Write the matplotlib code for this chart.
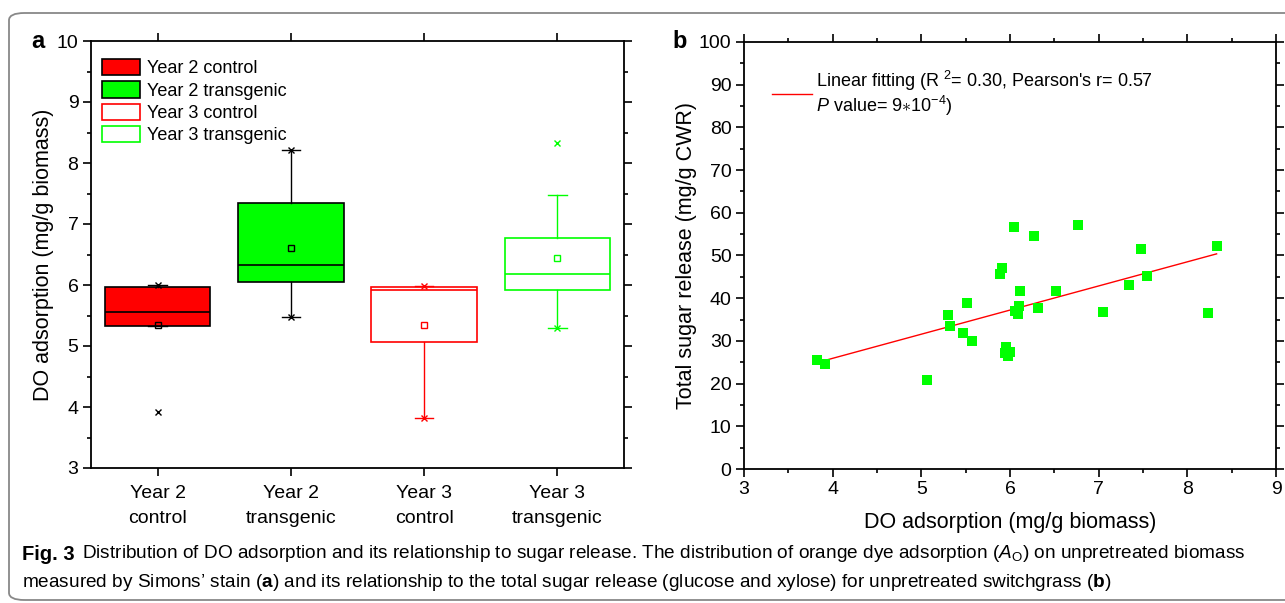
import numpy as np
import matplotlib
matplotlib.use('Agg')
import matplotlib.pyplot as plt
from matplotlib.patches import Patch, FancyBboxPatch
from matplotlib.text import Annotation
from matplotlib.ticker import MultipleLocator

plt.rcParams['font.family'] = ['Liberation Sans', 'DejaVu Sans']
plt.rcParams['mathtext.fontset'] = 'custom'
plt.rcParams['mathtext.rm'] = 'Liberation Sans'
plt.rcParams['mathtext.it'] = 'Liberation Sans:italic'
plt.rcParams['mathtext.bf'] = 'Liberation Sans:bold'

# ---- panel a: box statistics ----
groups = ['Year 2\ncontrol', 'Year 2\ntransgenic', 'Year 3\ncontrol', 'Year 3\ntransgenic']
legend_names = ['Year 2 control', 'Year 2 transgenic', 'Year 3 control', 'Year 3 transgenic']
q1 = [5.32, 6.05, 5.06, 5.91]
med = [5.56, 6.32, 5.92, 6.18]
q3 = [5.97, 7.34, 5.96, 6.77]
whis_lo = [5.32, 5.47, 3.82, 5.30]
whis_hi = [6.00, 8.22, 5.98, 7.48]
means = [5.35, 6.60, 5.35, 6.44]
x_marks = [[6.00, 3.92], [8.22, 5.47], [5.98, 3.82], [8.33, 5.30]]

# ---- panel b: scatter ----
do_ads = [3.82, 3.91, 5.06, 5.30, 5.32, 5.47, 5.51, 5.57, 5.89, 5.91, 6.04, 5.94, 5.96, 5.98, 6.00,
          6.06, 6.10, 6.09, 6.11, 6.27, 6.32, 6.52, 6.77, 7.05, 7.34, 7.48, 7.55, 8.23, 8.33]
sugar = [25.5, 24.7, 20.8, 36.0, 33.4, 31.9, 38.8, 29.9, 45.6, 47.1, 56.7, 27.2, 28.6, 26.4, 27.4,
         37.1, 38.1, 36.2, 41.8, 54.6, 37.8, 41.7, 57.1, 36.8, 43.2, 51.5, 45.3, 36.6, 52.2]
fit_slope = 5.65
fit_intercept = 3.32
fit_range = [3.82, 8.33]

green = '#00ff00'
red = '#ff0000'
face_cols = [red, green, 'white', 'white']
edge_cols = ['black', 'black', red, green]

fig = plt.figure(figsize=(12.85, 6.03), dpi=100)

# border with rounded corners
border = FancyBboxPatch((9 / 1285, 3 / 603), 1.05, 1 - 16 / 603,
                        boxstyle='round,pad=0,rounding_size=0.012',
                        transform=fig.transFigure, fill=False,
                        edgecolor='#888888', linewidth=1.3, clip_on=False)
fig.patches.append(border)

# ================= panel a =================
ax = fig.add_axes([91 / 1285, 1 - 468 / 603, (624 - 91) / 1285, (468 - 41) / 603])
for i in range(4):
    st = dict(q1=q1[i], med=med[i], q3=q3[i], whislo=whis_lo[i], whishi=whis_hi[i],
              mean=means[i], fliers=x_marks[i])
    ec = edge_cols[i]
    ax.bxp([st], positions=[i + 1], widths=0.79, capwidths=[0.14], showmeans=True,
           patch_artist=True,
           boxprops=dict(facecolor=face_cols[i], edgecolor=ec, linewidth=1.2),
           medianprops=dict(color=ec, linewidth=1.2),
           whiskerprops=dict(color=ec, linewidth=1.0),
           capprops=dict(color=ec, linewidth=1.0),
           meanprops=dict(marker='s', markerfacecolor='none', markeredgecolor=ec,
                          markersize=4, markeredgewidth=1.0),
           flierprops=dict(marker='x', markeredgecolor=ec, markersize=5, markeredgewidth=1.0))

ax.set_xlim(0.5, 4.5)
ax.set_ylim(3, 10)
ax.set_xticks([1, 2, 3, 4])
ax.set_xticklabels(groups, fontsize=14, linespacing=1.55)
ax.yaxis.set_major_locator(MultipleLocator(1))
ax.yaxis.set_minor_locator(MultipleLocator(0.5))
ax.tick_params(axis='both', which='major', labelsize=14, width=1.2, length=5.5)
ax.tick_params(axis='y', which='minor', width=1.2, length=3)
ax.tick_params(axis='x', pad=7)
ax.tick_params(left=True, right=True, top=True, bottom=True, which='both')
ax.tick_params(axis='x', which='minor', top=False, bottom=False)
for s in ax.spines.values():
    s.set_linewidth(1.3)
ax.set_ylabel('DO adsorption (mg/g biomass)', fontsize=15.5, labelpad=2)

handles = [Patch(facecolor=face_cols[i], edgecolor=edge_cols[i], linewidth=1.2) for i in range(4)]
ax.legend(handles, legend_names, loc='upper left', frameon=False, fontsize=13,
          handlelength=2.1, handleheight=1.0, handletextpad=0.4, labelspacing=0.22,
          borderaxespad=0.3, bbox_to_anchor=(-0.003, 0.987))

fig.text(38 / 1285, 1 - 42 / 603, 'a', fontsize=17, fontweight='bold', va='center', ha='center')

# ================= panel b =================
bx = fig.add_axes([744 / 1285, 1 - 469 / 603, (1276 - 744) / 1285, (469 - 42) / 603])
bx.scatter(do_ads, sugar, marker='s', s=62, color=green, linewidths=0, zorder=3)
fx = np.array(fit_range)
fit_line, = bx.plot(fx, fit_intercept + fit_slope * fx, color=red, linewidth=1.0, zorder=2)
bx.set_xlim(3, 9)
bx.set_ylim(0, 100)
bx.xaxis.set_major_locator(MultipleLocator(1))
bx.xaxis.set_minor_locator(MultipleLocator(0.5))
bx.yaxis.set_major_locator(MultipleLocator(10))
bx.yaxis.set_minor_locator(MultipleLocator(5))
bx.tick_params(axis='both', which='major', labelsize=14, width=1.2, length=5.5)
bx.tick_params(axis='both', which='minor', width=1.2, length=3)
bx.tick_params(left=True, right=True, top=True, bottom=True, which='both')
for s in bx.spines.values():
    s.set_linewidth(1.3)
bx.set_xlabel('DO adsorption (mg/g biomass)', fontsize=15.5, labelpad=10)
bx.set_ylabel('Total sugar release (mg/g CWR)', fontsize=15.5, labelpad=1)
leg = bx.legend([fit_line], ["Linear fitting (R $^{2}$= 0.30, Pearson's r= 0.57\n$P$ value= 9$\\ast$10$^{-4}$)"],
                loc='upper left', frameon=False, fontsize=13, handlelength=2.2,
                handletextpad=0.25, borderaxespad=0.5, bbox_to_anchor=(0.022, 0.975))
leg.get_texts()[0].set_linespacing(1.05)

fig.text(680 / 1285, 1 - 42 / 603, 'b', fontsize=17, fontweight='bold', va='center', ha='center')

# ================= caption =================
t1 = fig.text(22 / 1285, 1 - 560 / 603, 'Fig. 3', fontsize=14.5, fontweight='bold', va='baseline')
cap1 = Annotation('Distribution of DO adsorption and its relationship to sugar release. The distribution of orange dye '
                  'adsorption ($\\it{A}_{\\rm{O}}$) on unpretreated biomass',
                  xy=(1, 0), xycoords=t1, xytext=(5, 0), textcoords='offset points',
                  fontsize=13.7, va='bottom')
fig.add_artist(cap1)
fig.text(22 / 1285, 1 - 587 / 603,
         'measured by Simons\u2019 stain ($\\mathbf{a}$) and its relationship to the total sugar release '
         '(glucose and xylose) for unpretreated switchgrass ($\\mathbf{b}$)',
         fontsize=13.7, va='baseline')

fig.savefig('out.png', dpi=100)
